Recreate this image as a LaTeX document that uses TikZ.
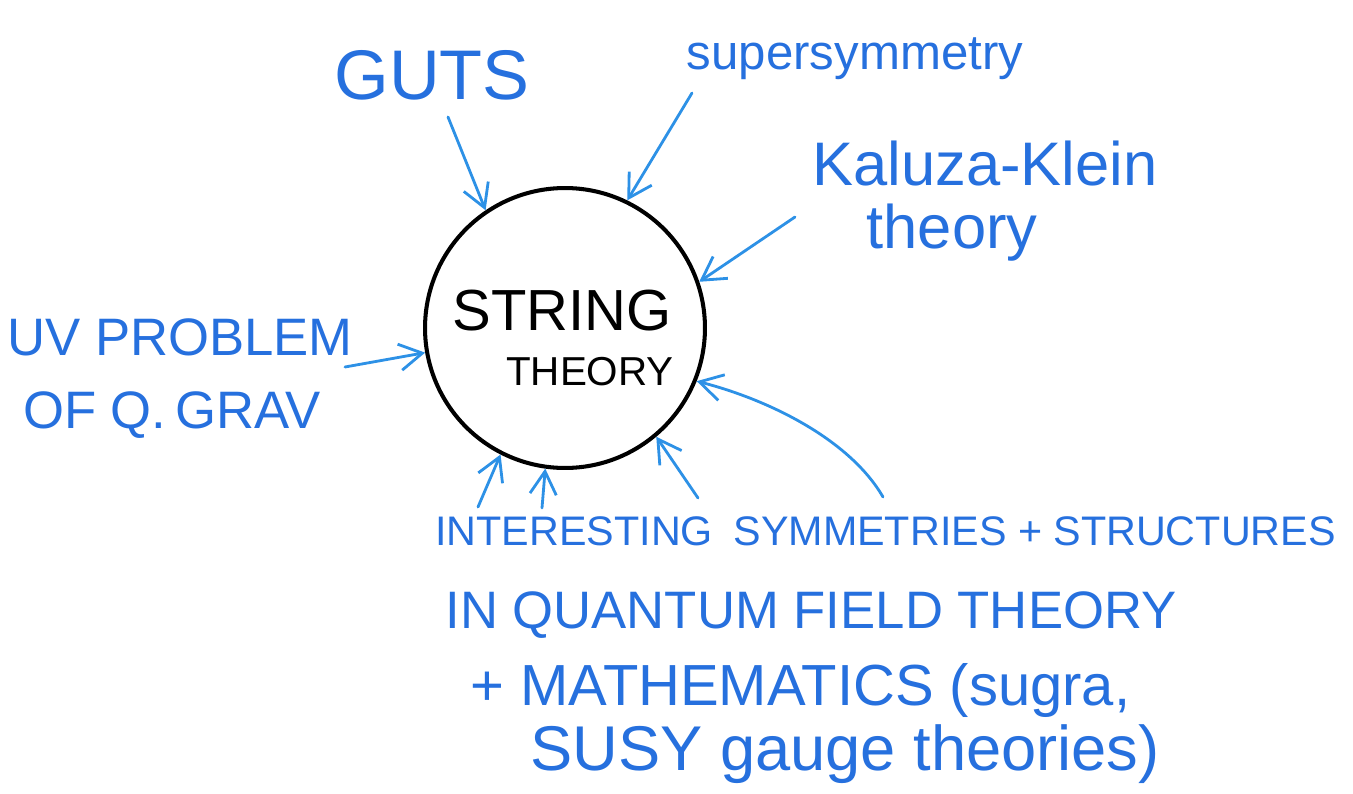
\documentclass[tikz,border=0pt]{standalone}
\usepackage{fontspec}
\setmainfont{Liberation Sans}
\usepackage{xcolor}
\usetikzlibrary{arrows.meta}

\definecolor{inkblue}{RGB}{38,112,222}
\definecolor{penblue}{RGB}{45,145,230}

\begin{document}
\begin{tikzpicture}[x=0.02cm, y=-0.02cm,
    label/.style={text=inkblue, inner sep=0pt, anchor=base},
    feed/.style={draw=penblue, line width=1.6pt, line cap=round,
      -{Straight Barb[length=13pt, width=15pt, line width=1.6pt]}}]
  \useasboundingbox (0,0) rectangle (1353,794);

  % Central blob
  \node[draw, circle, line width=2.3pt, minimum size=5.6cm] (string) at (565,328) {};
  \node[inner sep=0pt, anchor=base, font=\fontsize{33}{36}\selectfont] (st1) at (562,330) {STRING};
  \node[inner sep=0pt, anchor=base, font=\fontsize{23}{26}\selectfont] (st2) at (590,385) {THEORY};

  % Inputs around it
  \node[label, font=\fontsize{40}{44}\selectfont] (guts) at (432,100) {GUTS};
  \node[label, font=\fontsize{28}{32}\selectfont] (susy) at (855,70) {supersymmetry};
  \node[label, font=\fontsize{35}{38}\selectfont] (kk1) at (985,186) {Kaluza-Klein};
  \node[label, font=\fontsize{35}{38}\selectfont] (kk2) at (952,248) {theory};
  \node[label, font=\fontsize{30}{34}\selectfont] (uv1) at (180,355) {UV PROBLEM};
  \node[label, font=\fontsize{30}{34}\selectfont] (uv2) at (172,428) {OF Q.\,GRAV};

  % Bottom text
  \node[label, anchor=base west, font=\fontsize{23.5}{27}\selectfont] (qft1) at (435,545) {INTERESTING\enspace SYMMETRIES + STRUCTURES};
  \node[label, anchor=base west, font=\fontsize{30}{34}\selectfont] (qft2) at (445,628) {IN QUANTUM FIELD THEORY};
  \node[label, anchor=base west, font=\fontsize{33}{36}\selectfont] (qft3) at (470,705) {+ MATHEMATICS (sugra,};
  \node[label, anchor=base west, font=\fontsize{36}{40}\selectfont] (qft4) at (530,770) {SUSY gauge theories)};

  % Arrow tails
  \coordinate (t-guts) at (448,117);
  \coordinate (t-susy) at (692,93);
  \coordinate (t-kk) at (795,217);
  \coordinate (t-uv) at (345,367);
  \coordinate (t-int1) at (478,507);
  \coordinate (t-int2) at (542,508);
  \coordinate (t-int3) at (698,498);
  \coordinate (t-sym) at (883,497);

  % Arrows into the blob
  \draw[feed] (t-guts) -- (string.124);
  \draw[feed] (t-susy) -- (string.64);
  \draw[feed] (t-kk) -- (string.19);
  \draw[feed] (t-uv) -- (string.190);
  \draw[feed] (t-int1) -- (string.243);
  \draw[feed] (t-int2) -- (string.262);
  \draw[feed] (t-int3) -- (string.310);
  \draw[feed] (t-sym) .. controls (850,440) and (770,400) .. (string.338);
\end{tikzpicture}
\end{document}
